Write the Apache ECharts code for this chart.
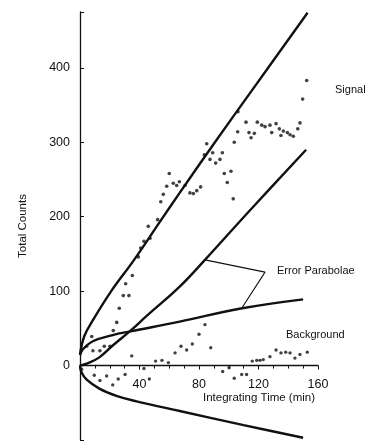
<!DOCTYPE html>
<html>
<head>
<meta charset="utf-8">
<script src="https://cdn.jsdelivr.net/npm/echarts@6/dist/echarts.min.js"></script>
<style>
  html, body {margin: 0; padding: 0; background: #fff;}
  #chart {width: 375px; height: 442px;}
</style>
</head>
<body>
<div id="chart"></div>
<script>
// measured points, [minutes, counts]
const signalPoints = [
  [4.5, 26], [7.9, 39], [8.7, 20], [13.4, 20], [16.3, 26], [20.2, 26],
  [22.4, 47], [24.7, 58], [26.4, 77], [29.1, 94], [32.9, 94], [30.7, 110],
  [35.2, 121], [39.2, 146], [40.8, 158], [43, 167], [45.9, 187], [47.1, 171],
  [52.2, 196], [54.3, 220], [56, 230], [58.3, 241], [60, 258], [62.7, 245],
  [65, 242], [66.8, 247], [70.6, 242], [73.9, 232], [76.2, 231], [78.5, 235],
  [81.1, 240], [83.6, 283], [85.2, 298], [87.4, 277], [89.2, 286], [91.2, 272],
  [94.1, 277], [95.7, 286], [97, 258], [99, 246], [101.5, 261], [103, 224],
  [103.7, 300], [106, 314], [106.2, 341], [111.6, 327], [113.6, 313], [115, 306],
  [117.2, 312], [119.2, 327], [122.2, 323], [124.4, 321], [127.7, 323], [128.9, 313],
  [131.8, 325], [134, 318], [135.1, 309], [136.7, 315], [139.4, 313], [141.2, 310],
  [143.4, 308], [146.4, 318], [147.9, 326], [149.7, 358], [152.4, 383]
]
const backgroundPoints = [
  [1.1, -5], [9.6, -13], [13.4, -20], [17.9, -14], [22, -26], [25.7, -18],
  [30.3, -12], [34.8, 13], [43, -4], [46.6, -18], [50.8, 6], [55.1, 7],
  [59.4, 4], [63.9, 17], [67.9, 26], [71.7, 21], [75.5, 29], [80, 42],
  [84, 55], [87.9, 24], [95.9, -8], [100.2, -3], [103.7, -17], [108.7, -12],
  [112, -12], [115.8, 6], [118.8, 7], [121, 7], [123.2, 8], [127.7, 12],
  [131.8, 21], [135.1, 17], [138.3, 18], [141.2, 17], [144.5, 10], [147.9, 15],
  [152.8, 18]
]
// error parabola curves
const signalUpper = [[0, 15], [3, 40], [9, 62], [21, 100], [36, 141],
  [54, 194], [67, 232], [90, 298], [115, 368], [153, 474]]
const signalLower = [[0, 0], [5, 3], [13, 11], [22, 27], [34, 47], [45, 67],
  [67, 106], [84, 142], [114, 208], [152, 290]]
const backgroundUpper = [[0, 14], [2, 22], [9, 33], [22, 41], [34, 46],
  [67, 59], [109, 77], [150, 89]]
const backgroundLower = [[0, 0], [1, -9], [4.5, -19], [13, -31], [25, -41], [38, -48],
  [67, -61], [110, -80], [150, -97]]
const pointer = [[84, 142], [124.4, 125.5], [108.7, 77]]

const xTicks = [40, 80, 120, 160]
const yTicks = [0, 100, 200, 300, 400]

const font = 'Liberation Sans, Arial, sans-serif'
const ink = '#111'

const curve = (data) => ({
  type: 'line',
  data,
  smooth: 0.4,
  showSymbol: false,
  silent: true,
  lineStyle: {color: ink, width: 2.4}
})

const grid = {left: 80, right: 57, top: 12, bottom: 2}
const yMin = -100
const yMax = 475
// the time axis sits on the zero line, lift it up from the grid bottom
const plotH = 442 - grid.top - grid.bottom
const zeroLift = plotH * (0 - yMin) / (yMax - yMin)

const myChart = echarts.init(document.getElementById('chart'))
myChart.setOption({
  animation: false,
  backgroundColor: '#fff',
  grid: {...grid, outerBoundsMode: 'none', containLabel: false},
  xAxis: {
    type: 'value',
    min: 0,
    max: 160,
    interval: 40,
    offset: -zeroLift,
    axisLine: {onZero: false, lineStyle: {color: ink, width: 1.3}},
    axisTick: {length: 4, lineStyle: {color: ink}},
    minorTick: {show: true, splitNumber: 4, length: 3, lineStyle: {color: ink}},
    splitLine: {show: false},
    axisLabel: {
      margin: 12,
      color: ink,
      fontFamily: font,
      fontSize: 12.5,
      formatter: (v) => xTicks.includes(v) ? String(v) : ''
    }
  },
  yAxis: {
    type: 'value',
    min: yMin,
    max: yMax,
    interval: 100,
    name: 'Total Counts',
    nameLocation: 'middle',
    nameRotate: 90,
    nameGap: 51,
    nameTextStyle: {color: ink, fontFamily: font, fontSize: 11.5},
    axisLine: {lineStyle: {color: ink, width: 1.3}},
    axisTick: {inside: true, length: 4, lineStyle: {color: ink}},
    splitLine: {show: false},
    axisLabel: {
      margin: 10,
      color: ink,
      fontFamily: font,
      fontSize: 12.5,
      formatter: (v) => yTicks.includes(v) ? String(v) : ''
    }
  },
  graphic: [
    {type: 'text', left: 335, top: 84, style: {text: 'Signal', font: '11px ' + font, fill: ink}},
    {type: 'text', left: 277, top: 265, style: {text: 'Error Parabolae', font: '11px ' + font, fill: ink}},
    {type: 'text', left: 286, top: 329, style: {text: 'Background', font: '11px ' + font, fill: ink}},
    {type: 'text', left: 203, top: 392, style: {text: 'Integrating Time (min)', font: '11.5px ' + font, fill: ink}}
  ],
  series: [
    curve(signalUpper),
    curve(signalLower),
    curve(backgroundUpper),
    curve(backgroundLower),
    {
      type: 'line',
      data: pointer,
      showSymbol: false,
      silent: true,
      lineStyle: {color: ink, width: 1.1}
    },
    {
      type: 'scatter',
      data: signalPoints,
      symbolSize: 3.6,
      itemStyle: {color: ink}
    },
    {
      type: 'scatter',
      data: backgroundPoints,
      symbolSize: 3.4,
      itemStyle: {color: ink}
    }
  ]
})
</script>
</body>
</html>
